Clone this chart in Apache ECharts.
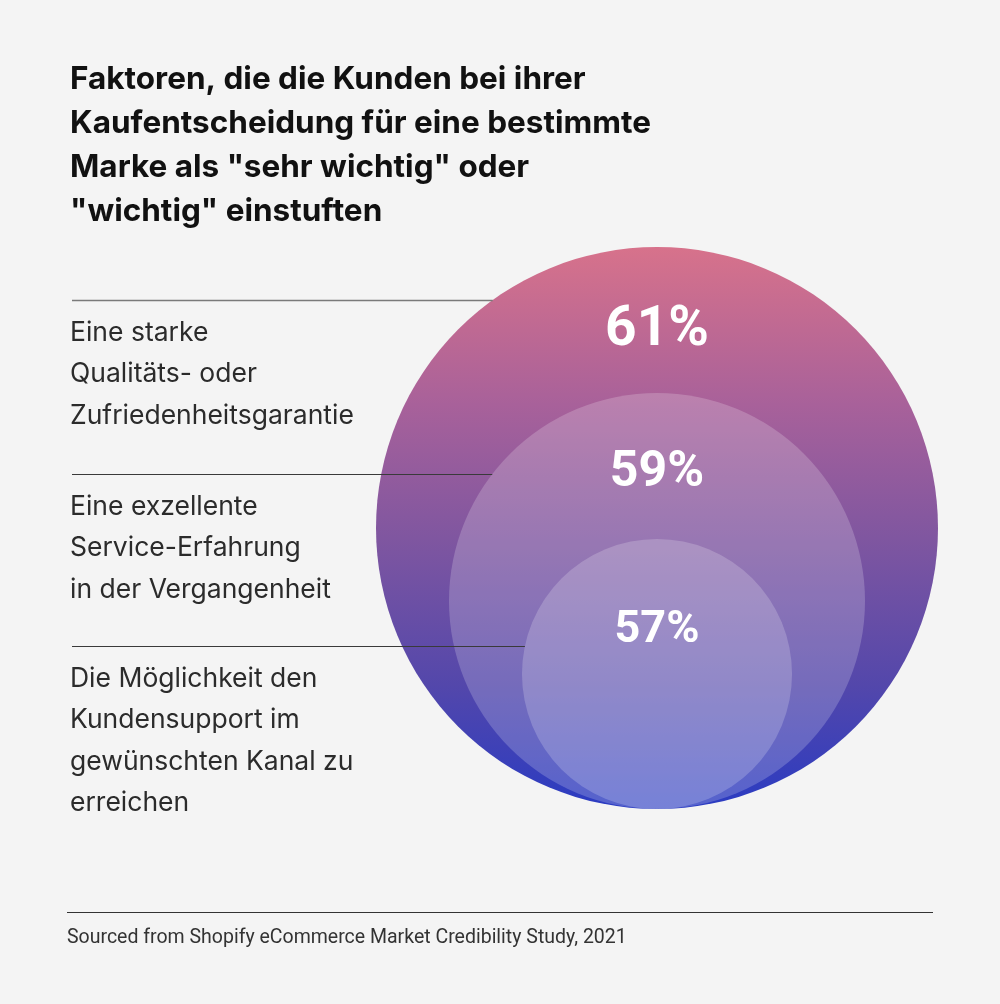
<!DOCTYPE html>
<html>
<head>
<meta charset="utf-8">
<script src="https://cdn.jsdelivr.net/npm/echarts@6/dist/echarts.min.js"></script>
<style>
  html, body { margin: 0; padding: 0; background: #f4f4f4; }
  #chart { width: 1000px; height: 1004px; }
</style>
</head>
<body>
<div id="chart"></div>
<script>
// ---- data ----
const titleText = 'Faktoren, die die Kunden bei ihrer\nKaufentscheidung für eine bestimmte\nMarke als "sehr wichtig" oder\n"wichtig" einstuften';
const categories = [
  'Eine starke\nQualitäts- oder\nZufriedenheitsgarantie',
  'Eine exzellente\nService-Erfahrung\nin der Vergangenheit',
  'Die Möglichkeit den\nKundensupport im\ngewünschten Kanal zu\nerreichen'
];
const values = [61, 59, 57];
const sourceText = 'Sourced from Shopify eCommerce Market Credibility Study, 2021';

// ---- layout / style (not data) ----
const AXIS_BASE = 53.3;
const leaderY = [300, 474, 646];
const pctFontSize = [55, 50, 45];
const pctOffset = [84, 81, 92];
const FONT = 'Inter, Roboto, "Noto Sans", sans-serif';
const PCT_FONT = 'Roboto, Inter, sans-serif';

const chart = echarts.init(document.getElementById('chart'), null, { renderer: 'canvas' });

const bigGradient = {
  type: 'linear', x: 0, y: 0, x2: 0, y2: 1,
  colorStops: [
    { offset: 0, color: '#d7728b' },
    { offset: 0.28, color: '#a8619a' },
    { offset: 0.52, color: '#7f56a0' },
    { offset: 0.78, color: '#5347ab' },
    { offset: 1, color: '#2a3bc2' }
  ]
};

const option = {
  backgroundColor: '#f4f4f4',
  animation: false,
  grid: { left: 375, width: 564, top: 247, height: 562 },
  xAxis: { type: 'value', min: 0, max: 1, show: false },
  yAxis: { type: 'value', min: AXIS_BASE, max: 61, show: false },
  graphic: [
    {
      type: 'text', left: 70, top: 58,
      style: {
        text: titleText, fill: '#111', font: 'bold 31.5px ' + FONT,
        lineHeight: 44
      }
    },
    {
      type: 'line', shape: { x1: 67, y1: 912.5, x2: 933, y2: 912.5 },
      style: { stroke: '#333', lineWidth: 1 }
    },
    {
      type: 'text', left: 67, top: 928,
      style: { text: sourceText, fill: '#333', font: '19.5px Roboto, sans-serif' }
    }
  ],
  series: [{
    type: 'custom',
    coordinateSystem: 'cartesian2d',
    data: values.map((v, i) => [0.5, v, i]),
    renderItem: function (params, api) {
      const i = params.dataIndex;
      const v = api.value(1);
      const top = api.coord([0.5, v]);
      const bottom = api.coord([0.5, AXIS_BASE]);
      const cx = top[0];
      const r = (bottom[1] - top[1]) / 2;
      const cy = top[1] + r;
      const ly = leaderY[i];
      const lx = cx - Math.sqrt(Math.max(0, r * r - (ly - cy) * (ly - cy)));
      const children = [
        {
          type: 'circle',
          shape: { cx: cx, cy: cy, r: r },
          style: { fill: i === 0 ? bigGradient : 'rgba(255,255,255,0.2)' },
          z2: i * 10
        },
        {
          type: 'text',
          z2: i * 10 + 5,
          style: {
            text: v + '%', x: cx, y: top[1] + pctOffset[i],
            align: 'center', verticalAlign: 'middle',
            fill: '#ffffff', font: 'bold ' + pctFontSize[i] + 'px ' + PCT_FONT
          }
        },
        {
          type: 'line',
          z2: i * 10 + 6,
          shape: { x1: 72, y1: ly + 0.5, x2: lx, y2: ly + 0.5 },
          style: { stroke: i === 0 ? '#7a7a7a' : '#3a3a3a', lineWidth: i === 0 ? 1.5 : 1 }
        },
        {
          type: 'text',
          z2: i * 10 + 6,
          style: {
            text: categories[i], x: 70, y: ly + 12,
            align: 'left', verticalAlign: 'top',
            fill: '#2b2b2b', font: '26.5px ' + FONT, lineHeight: 41.5
          }
        }
      ];
      return { type: 'group', children: children };
    }
  }]
};
chart.setOption(option);
</script>
</body>
</html>
